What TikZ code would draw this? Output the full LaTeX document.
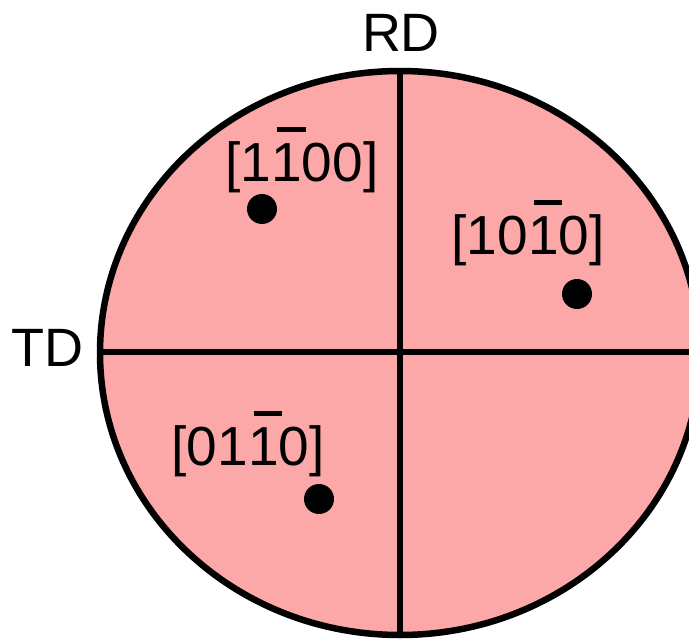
\documentclass[tikz,border=0pt]{standalone}
\usepackage{fontspec}
\setmainfont{Liberation Sans}
% digit with a bar over it (negative Miller index)
\newcommand{\negidx}[1]{\leavevmode\setbox0\hbox{#1}\rlap{\hbox to\wd0{\hfil\hskip0.1em\rule[0.9em]{0.52em}{0.08em}\hfil}}\box0\relax}
\definecolor{polefill}{RGB}{253,168,168}
\tikzset{
  rim/.style={draw=black, line width=6.5pt, fill=polefill},
  axisline/.style={draw=black, line width=6.5pt},
  pole/.style={circle, fill=black, inner sep=0pt, minimum size=30pt},
  idx/.style={font=\fontsize{55}{60}\selectfont, inner sep=0pt, text=black},
  dirlabel/.style={font=\fontsize{54}{60}\selectfont, inner sep=0pt, text=black}
}
\begin{document}
\begin{tikzpicture}[x=1pt, y=-1pt]
  \useasboundingbox (0,0) rectangle (689,642);
  \clip (0,0) rectangle (689,642);
  % pole figure disc
  \draw[rim] (400,353) ellipse [x radius=300, y radius=282];
  \coordinate (top) at (400,71);
  \coordinate (bottom) at (400,635);
  \coordinate (left) at (100,352);
  \coordinate (right) at (700,352);
  \draw[axisline] (top) -- (bottom);
  \draw[axisline] (left) -- (right);
  % sample directions
  \node[dirlabel] (rd) at (401,33) {RD};
  \node[dirlabel] (td) at (47,348) {TD};
  % poles and their indices
  \node[pole] (p1) at (262,209) {};
  \node[pole] (p2) at (577,294) {};
  \node[pole] (p3) at (319,499) {};
  \node[idx] (l1) at (302,160) {[1\negidx{1}00]};
  \node[idx] (l2) at (528,233) {[10\negidx{1}0]};
  \node[idx] (l3) at (248,444) {[01\negidx{1}0]};
\end{tikzpicture}
\end{document}
